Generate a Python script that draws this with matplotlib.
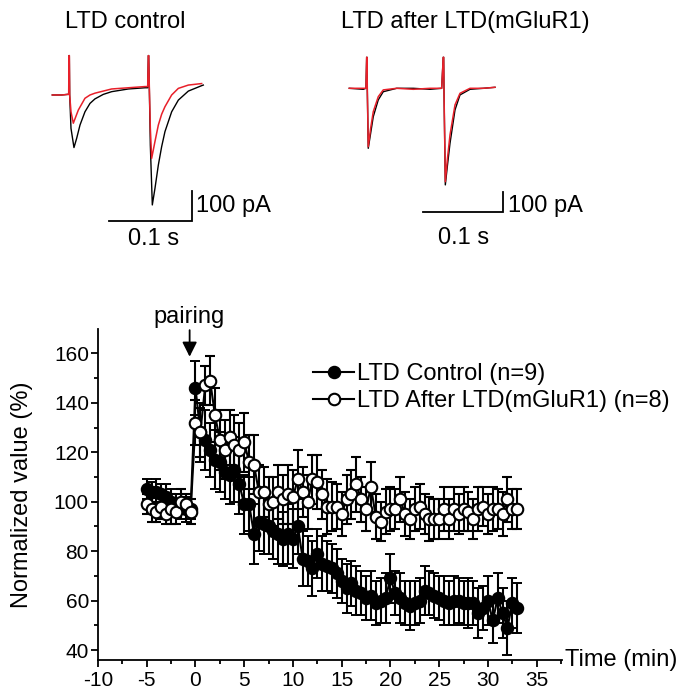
import matplotlib
matplotlib.use('Agg')
import matplotlib.pyplot as plt
from matplotlib.lines import Line2D

plt.rcParams['font.family'] = ['Liberation Sans', 'DejaVu Sans']

# ---------------- data: summary time course ----------------
time_min = [-5.0, -4.5, -4.0, -3.5, -3.0, -2.5, -2.0, -1.5, -1.0, -0.5,
            0.0, 0.5, 1.0, 1.5, 2.0, 2.5, 3.0, 3.5, 4.0, 4.5,
            5.0, 5.5, 6.0, 6.5, 7.0, 7.5, 8.0, 8.5, 9.0, 9.5,
            10.0, 10.5, 11.0, 11.5, 12.0, 12.5, 13.0, 13.5, 14.0, 14.5,
            15.0, 15.5, 16.0, 16.5, 17.0, 17.5, 18.0, 18.5, 19.0, 19.5,
            20.0, 20.5, 21.0, 21.5, 22.0, 22.5, 23.0, 23.5, 24.0, 24.5,
            25.0, 25.5, 26.0, 26.5, 27.0, 27.5, 28.0, 28.5, 29.0, 29.5,
            30.0, 30.5, 31.0, 31.5, 32.0, 32.5, 33.0]

ctrl_mean = [105, 104, 104, 103, 102, 100, 99, 98, 97, 97,
             146, 128, 125, 121, 117, 116, 112, 111, 113, 107,
             99, 99, 87, 92, 91, 90, 88, 87, 85, 87,
             85, 90, 77, 76, 73, 79, 75, 74, 73, 71,
             68, 65, 67, 64, 63, 61, 62, 59, 60, 61,
             69, 63, 61, 59, 58, 59, 60, 64, 63, 62,
             61, 60, 59, 60, 60, 59, 59, 59, 55, 57,
             60, 52, 61, 55, 49, 59, 57]
ctrl_sem = [4, 4, 5, 4, 5, 5, 4, 5, 5, 4,
            11, 12, 12, 11, 12, 12, 11, 12, 13, 12,
            12, 11, 12, 12, 12, 11, 11, 12, 11, 12,
            12, 11, 11, 10, 11, 10, 11, 10, 10, 10,
            9, 10, 9, 10, 9, 9, 10, 9, 9, 10,
            10, 9, 10, 9, 10, 9, 9, 10, 9, 9,
            9, 10, 9, 10, 9, 9, 10, 9, 10, 9,
            10, 9, 10, 10, 11, 10, 10]

after_mean = [99, 97, 96, 98, 95, 97, 96, 100, 99, 96,
              132, 128, 147, 149, 135, 125, 121, 126, 123, 121,
              124, 116, 115, 104, 104, 99, 100, 104, 101, 103,
              102, 109, 104, 100, 109, 108, 103, 98, 98, 98,
              95, 101, 103, 107, 101, 97, 106, 94, 92, 96,
              97, 97, 101, 95, 93, 97, 98, 95, 93, 93,
              93, 97, 93, 97, 95, 97, 96, 93, 97, 98,
              95, 97, 97, 95, 101, 97, 97]
after_sem = [4, 5, 4, 5, 4, 6, 5, 5, 4, 5,
             9, 10, 8, 10, 11, 12, 12, 11, 12, 11,
             12, 11, 12, 11, 10, 11, 10, 11, 10, 12,
             11, 12, 10, 11, 10, 11, 10, 11, 10, 9,
             9, 10, 10, 11, 9, 9, 10, 9, 8, 9,
             9, 8, 9, 9, 8, 9, 9, 8, 9, 8,
             8, 9, 8, 9, 8, 9, 8, 8, 9, 8,
             8, 9, 8, 9, 9, 8, 8]

series_labels = ['LTD Control (n=9)', 'LTD After LTD(mGluR1) (n=8)']
x_ticks = [-10, -5, 0, 5, 10, 15, 20, 25, 30, 35]
y_ticks = [40, 60, 80, 100, 120, 140, 160]

# ---------------- data: example traces (ms, pA) ----------------
left_black_t = [0.4, 11.7, 19.0, 20.2, 20.6, 21.0, 21.4, 23.0, 26.6, 29.9, 33.9, 39.9,
                46.0, 52.0, 62.1, 72.2, 92.4, 112.5, 115.8, 116.6, 117.0, 117.8, 119.0,
                121.4, 124.6, 128.7, 132.7, 136.7, 144.8, 152.9, 165.0, 181.1, 183.1]
left_black_i = [0, 0, 2, 2, 131, 131, 0, -111, -175, -144, -100, -56,
                -28, -13, 2, 11, 20, 24, 24, 131, 131, 22, -167,
                -366, -311, -233, -172, -122, -56, -17, 13, 31, 33]
left_red_t = [0.4, 11.7, 19.0, 20.2, 20.6, 21.0, 21.4, 23.0, 25.8, 31.9, 39.9, 46.0,
              52.0, 72.2, 92.4, 112.5, 115.8, 116.6, 117.0, 117.8, 119.0, 120.6,
              124.6, 128.7, 132.7, 136.7, 144.8, 152.9, 165.0, 181.1]
left_red_i = [0, 0, 2, 2, 131, 131, 0, -56, -94, -50, -11, 0,
              6, 20, 24, 28, 28, 131, 131, 24, -111, -211,
              -155, -100, -64, -39, 0, 22, 33, 38]

right_black_t = [0.0, 17.6, 21.0, 21.9, 22.3, 22.7, 23.9, 26.9, 30.2, 36.5, 42.8, 59.7,
                 80.7, 101.7, 116.4, 118.4, 118.9, 119.3, 121.0, 123.5, 126.9, 133.2,
                 139.5, 152.1, 168.8, 183.6]
right_black_i = [0, -5, 0, 155, 155, -5, -300, -225, -142, -58, -17, 0,
                 0, -5, 0, 155, 155, 0, -483, -392, -275, -108,
                 -33, -5, 0, 5]
right_red_t = [0.0, 17.6, 21.0, 21.9, 22.3, 22.7, 23.9, 26.9, 30.2, 36.5, 42.8, 59.7,
               80.7, 101.7, 116.4, 118.4, 118.9, 119.3, 121.0, 123.5, 126.9, 133.2,
               139.5, 152.1, 168.8, 183.6]
right_red_i = [0, 0, 0, 155, 155, 0, -292, -200, -117, -42, -8, 0,
               -5, 0, 0, 155, 155, 0, -467, -358, -233, -83,
               -25, 0, 0, 5]

W = H = 696
fig = plt.figure(figsize=(6.96, 6.96), dpi=100)


def px_axes(x0, y0, x1, y1):
    return fig.add_axes([x0 / W, 1 - y1 / H, (x1 - x0) / W, (y1 - y0) / H])


FS = 17
RED = '#e8202a'

# ---------------- left inset ----------------
axL = px_axes(40, 40, 300, 250)
axL.set_xlim(-14.5, 300.1)
axL.set_ylim(-516, 183)
axL.axis('off')
axL.plot(left_black_t, left_black_i, color='black', lw=1.0)
axL.plot(left_red_t, left_red_i, color=RED, lw=1.1)
axL.plot([69, 169, 169], [-418.6, -418.6, -318.6], color='black', lw=1.3, solid_joinstyle='miter')
axL.text(174.5, -369, '100 pA', fontsize=FS, ha='left', va='center')
axL.text(122.8, -478, '0.1 s', fontsize=FS, ha='center', va='center')

# ---------------- right inset ----------------
axR = px_axes(330, 40, 600, 250)
axR.set_xlim(-24.3, 315.9)
axR.set_ylim(-808.5, 241.5)
axR.axis('off')
axR.plot(right_black_t, right_black_i, color='black', lw=1.0)
axR.plot(right_red_t, right_red_i, color=RED, lw=1.1)
axR.plot([93.2, 193.2, 193.2], [-617, -617, -517], color='black', lw=1.3, solid_joinstyle='miter')
axR.text(200.5, -588, '100 pA', fontsize=FS, ha='left', va='center')
axR.text(144.3, -748, '0.1 s', fontsize=FS, ha='center', va='center')

fig.text(65 / W, 1 - 28.3 / H, 'LTD control', fontsize=FS, ha='left', va='baseline')
fig.text(341 / W, 1 - 28.3 / H, 'LTD after LTD(mGluR1)', fontsize=FS, ha='left', va='baseline')

# ---------------- main plot ----------------
ax = px_axes(98, 328.6, 562, 660)
ax.set_xlim(-10, 37.6)
ax.set_ylim(36, 170)

MS = 8.3
ax.errorbar(time_min, ctrl_mean, yerr=ctrl_sem, fmt='-o', color='black', mfc='black',
            mec='black', ms=MS, lw=1.5, elinewidth=1.5, capsize=3.5, capthick=1.5, mew=1.4, zorder=3)
ax.errorbar(time_min, after_mean, yerr=after_sem, fmt='-o', color='black', mfc='white',
            mec='black', ms=MS, lw=1.5, elinewidth=1.5, capsize=3.5, capthick=1.5, mew=1.5, zorder=4)

for s in ['top', 'right']:
    ax.spines[s].set_visible(False)
for s in ['left', 'bottom']:
    ax.spines[s].set_linewidth(1.3)

ax.set_xticks(x_ticks)
ax.set_xticklabels([str(v) for v in x_ticks])
ax.set_xticks([v + 2.5 for v in x_ticks], minor=True)
ax.set_yticks(y_ticks)
ax.set_yticks([v + 10 for v in y_ticks[:-1]], minor=True)
ax.tick_params(axis='both', which='major', length=5, width=1.3, labelsize=15, direction='out')
ax.tick_params(axis='both', which='minor', length=3, width=1.3, direction='out')
ax.tick_params(axis='x', pad=3)
ax.tick_params(axis='y', pad=1.5)

ax.set_ylabel('Normalized value (%)', fontsize=FS)
ax.yaxis.set_label_coords(-0.141, 0.5)
ax.text(1.006, 0.0, 'Time (min)', transform=ax.transAxes, fontsize=FS, ha='left', va='center')

ax.annotate('', xy=(-0.6, 157.5), xytext=(-0.6, 170.5),
            arrowprops=dict(arrowstyle='-|>', color='black', lw=1.3, mutation_scale=22),
            annotation_clip=False)
ax.text(-0.7, 172.2, 'pairing', fontsize=FS, ha='center', va='baseline')

handles = [Line2D([], [], color='black', marker='o', mfc='black', mec='black', ms=MS, lw=1.5, mew=1.4),
           Line2D([], [], color='black', marker='o', mfc='white', mec='black', ms=MS, lw=1.5, mew=1.5)]
ax.legend(handles, series_labels, loc='upper left', bbox_to_anchor=(313 / W, 1 - 363 / H),
          bbox_transform=fig.transFigure, frameon=False, fontsize=FS, handlelength=1.75,
          handletextpad=0.1, labelspacing=0.22, borderpad=0, borderaxespad=0)

fig.savefig('out.png', dpi=100)
